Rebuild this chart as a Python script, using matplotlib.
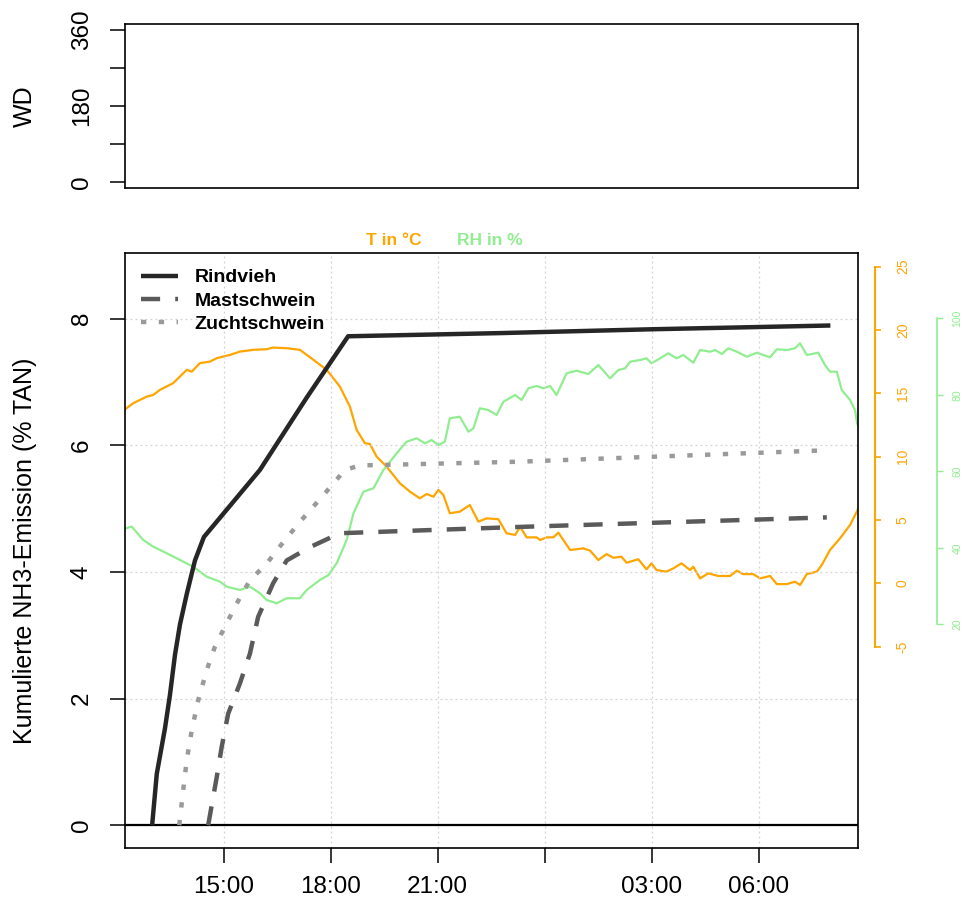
import matplotlib
matplotlib.use("Agg")
import matplotlib.pyplot as plt

plt.rcParams['font.family'] = ['Liberation Sans', 'DejaVu Sans']
plt.rcParams['axes.unicode_minus'] = False

# ---- data (time in decimal hours; >24 = next day) ----
rind_t = [13.00, 13.13, 13.36, 13.50, 13.64, 13.78, 13.97, 14.20, 14.45, 16.02, 17.34, 18.49, 22.75, 26.95, 32.00]
rind_v = [0.00, 0.81, 1.53, 2.06, 2.69, 3.17, 3.65, 4.18, 4.55, 5.61, 6.76, 7.72, 7.77, 7.83, 7.89]

mast_t = [14.57, 14.81, 14.95, 15.13, 15.46, 15.74, 15.97, 16.39, 16.77, 17.42, 18.26, 23.31, 31.90]
mast_v = [0.00, 0.76, 1.24, 1.76, 2.24, 2.71, 3.29, 3.82, 4.18, 4.39, 4.61, 4.71, 4.86]

zucht_t = [13.76, 13.86, 13.97, 14.11, 14.29, 14.53, 14.76, 14.99, 15.37, 15.74, 16.21, 16.49,
           17.14, 17.75, 18.40, 18.82, 23.31, 31.90]
zucht_v = [0.00, 0.50, 1.03, 1.50, 1.97, 2.45, 2.82, 3.08, 3.50, 3.87, 4.13, 4.34,
           4.79, 5.18, 5.61, 5.68, 5.74, 5.92]

temp_t = [12.10, 12.47, 12.85, 13.03, 13.22, 13.59, 13.97, 14.11, 14.34, 14.62, 14.81, 15.18,
          15.46, 15.83, 16.21, 16.39, 16.77, 17.14, 17.52, 17.89, 18.26, 18.54, 18.73, 18.96,
          19.10, 19.29, 19.57, 19.94, 20.22, 20.50, 20.69, 20.88, 21.02, 21.16, 21.34, 21.62,
          21.90, 22.14, 22.37, 22.70, 22.93, 23.17, 23.31, 23.49, 23.77, 23.87, 24.05, 24.24,
          24.38, 24.71, 25.08, 25.27, 25.50, 25.73, 25.92, 26.15, 26.29, 26.62, 26.85, 26.99,
          27.13, 27.41, 27.60, 27.83, 28.07, 28.16, 28.35, 28.58, 28.86, 29.19, 29.38, 29.56,
          29.84, 30.03, 30.31, 30.50, 30.78, 31.01, 31.15, 31.34, 31.62, 31.76, 31.99, 32.27,
          32.55, 32.74, 32.85]
temp_v = [13.43, 14.22, 14.74, 14.87, 15.27, 15.80, 16.85, 16.71, 17.38, 17.50, 17.77, 18.03,
          18.29, 18.43, 18.48, 18.61, 18.56, 18.43, 17.64, 16.85, 15.53, 13.95, 12.11, 11.06,
          11.00, 10.00, 9.21, 7.90, 7.24, 6.71, 7.05, 6.84, 7.37, 6.97, 5.53, 5.66,
          6.18, 4.87, 5.13, 5.06, 3.95, 3.82, 4.47, 3.63, 3.63, 3.42, 3.63, 3.63,
          4.00, 2.63, 2.76, 2.58, 1.84, 2.31, 2.02, 2.10, 1.63, 1.90, 1.11, 1.58,
          1.05, 0.92, 1.18, 1.58, 1.05, 1.31, 0.39, 0.79, 0.58, 0.58, 1.00, 0.73,
          0.73, 0.39, 0.58, -0.06, -0.06, 0.13, -0.13, 0.73, 0.92, 1.45, 2.63, 3.55,
          4.60, 5.66, 6.30]

rh_t = [12.10, 12.43, 12.75, 13.03, 13.41, 13.78, 14.15, 14.53, 14.90, 15.09, 15.46, 15.74,
        16.02, 16.21, 16.49, 16.77, 17.14, 17.33, 17.70, 17.94, 18.17, 18.45, 18.64, 18.92,
        19.20, 19.48, 19.85, 20.13, 20.41, 20.64, 20.83, 21.02, 21.20, 21.34, 21.62, 21.86,
        22.00, 22.18, 22.42, 22.65, 22.84, 23.17, 23.35, 23.54, 23.77, 23.96, 24.15, 24.33,
        24.61, 24.89, 25.22, 25.50, 25.83, 26.06, 26.25, 26.39, 26.67, 26.85, 26.99, 27.23,
        27.46, 27.69, 27.88, 28.16, 28.35, 28.63, 28.77, 28.96, 29.14, 29.38, 29.66, 29.94,
        30.12, 30.31, 30.50, 30.78, 31.01, 31.15, 31.34, 31.66, 31.85, 31.99, 32.18, 32.32,
        32.55, 32.69, 32.75, 32.85]
rh_v = [44.65, 45.52, 42.04, 40.29, 38.56, 36.81, 35.06, 32.44, 31.14, 29.83, 28.97, 29.83,
        28.10, 26.35, 25.49, 26.80, 26.80, 28.97, 31.58, 32.89, 35.95, 42.04, 49.02, 54.67,
        55.56, 60.34, 64.71, 67.74, 68.63, 67.32, 68.18, 66.88, 67.74, 73.86, 74.27, 70.35,
        71.24, 76.47, 76.03, 74.72, 78.20, 79.95, 78.64, 81.70, 82.30, 81.70, 82.30, 79.95,
        85.62, 86.30, 85.44, 87.79, 84.31, 86.48, 86.93, 88.65, 89.10, 89.54, 88.24, 89.54,
        90.85, 89.54, 90.41, 88.39, 91.71, 91.27, 91.71, 90.67, 92.16, 91.27, 89.96, 91.01,
        90.41, 89.80, 91.90, 91.71, 92.16, 93.46, 90.41, 91.01, 87.79, 86.04, 86.04, 81.25,
        78.64, 76.03, 72.55, 70.00]

x_ticks = [15, 18, 21, 24, 27, 30]
x_labels = ["15:00", "18:00", "21:00", "", "03:00", "06:00"]
y_ticks = [0, 2, 4, 6, 8]
wd_ticks = [0, 90, 180, 270, 360]
wd_labels = ["0", "", "180", "", "360"]
t_ticks = [-5, 0, 5, 10, 15, 20, 25]
rh_ticks = [20, 40, 60, 80, 100]
series_names = ["Rindvieh", "Mastschwein", "Zuchtschwein"]

# ---- figure ----
W, H = 964, 907
fig = plt.figure(figsize=(W / 100, H / 100), dpi=100)

def fr(x0, y0, x1, y1):
    return [x0 / W, 1 - y1 / H, (x1 - x0) / W, (y1 - y0) / H]

XLIM = (12.24, 32.76)
ORANGE = "#FFA500"
GREEN = "#90EE90"

# top WD panel
ax0 = fig.add_axes(fr(125, 24, 857.5, 188.3))
ax0.set_xlim(*XLIM)
ax0.set_ylim(-14.4, 374.4)
ax0.set_xticks([])
ax0.set_yticks(wd_ticks)
ax0.set_yticklabels(wd_labels)
ax0.tick_params(axis='y', length=11, width=1.1, pad=20, labelsize=17.5, labelrotation=90)
for lb in ax0.get_yticklabels():
    lb.set_ha('center'); lb.set_va('center')
for s in ax0.spines.values():
    s.set_linewidth(1.2)
ax0.set_ylabel("WD", fontsize=18)
ax0.yaxis.set_label_coords(-0.120, 0.5)

# bottom main panel
ax = fig.add_axes(fr(125, 253.3, 857.5, 848))
ax_t = ax.twinx()
ax_rh = ax.twinx()
for a in (ax_t, ax_rh):
    for k in ('left', 'top', 'bottom'):
        a.spines[k].set_visible(False)

ax.set_xlim(*XLIM)
ax.set_ylim(-0.36, 9.03)

# grid
for xt in x_ticks:
    ax.axvline(xt, color="#D3D3D3", lw=0.9, ls=(0, (1.5, 2.5)), zorder=0)
for yt in y_ticks:
    ax.axhline(yt, color="#D3D3D3", lw=0.9, ls=(0, (1.5, 2.5)), zorder=0)
ax.axhline(0, color="black", lw=1.6, zorder=1)

# T and RH
ax_t.plot(temp_t, temp_v, color=ORANGE, lw=1.6)
ax_t.set_ylim(-20.89, 26.05)
ax_t.spines['right'].set_position(('axes', 1.0239))
ax_t.spines['right'].set_bounds(-5, 25)
ax_t.spines['right'].set_color(ORANGE)
ax_t.spines['right'].set_linewidth(1.5)
ax_t.set_yticks(t_ticks)
ax_t.set_yticklabels([str(v) for v in t_ticks])
ax_t.tick_params(axis='y', colors=ORANGE, length=4, width=1.2, pad=11, labelsize=10, labelrotation=90)
for lb in ax_t.get_yticklabels():
    lb.set_va('center')

ax_rh.plot(rh_t, rh_v, color=GREEN, lw=1.6)
ax_rh.set_ylim(-38.5, 117.0)
ax_rh.spines['right'].set_position(('axes', 1.1085))
ax_rh.spines['right'].set_bounds(20, 100)
ax_rh.spines['right'].set_color(GREEN)
ax_rh.spines['right'].set_linewidth(1.2)
ax_rh.set_yticks(rh_ticks)
ax_rh.set_yticklabels([str(v) for v in rh_ticks])
ax_rh.tick_params(axis='y', colors=GREEN, length=4, width=1.0, pad=7, labelsize=7.5, labelrotation=90)
for lb in ax_rh.get_yticklabels():
    lb.set_va('center')

# emission lines on top
ax.set_zorder(5)
ax.patch.set_visible(False)
l1, = ax.plot(rind_t, rind_v, color="#262626", lw=3.2, solid_capstyle='butt', label=series_names[0])
l2, = ax.plot(mast_t, mast_v, color="#5A5A5A", lw=3.2, ls=(0, (4.3, 3.4)), dash_capstyle='butt', label=series_names[1])
l3, = ax.plot(zucht_t, zucht_v, color="#9A9A9A", lw=3.2, ls=(0, (1.2, 2.8)), dash_capstyle='butt', label=series_names[2])

ax.set_xticks(x_ticks)
ax.set_xticklabels(x_labels)
ax.set_yticks(y_ticks)
ax.set_yticklabels([str(v) for v in y_ticks])
ax.tick_params(axis='x', length=10.5, width=1.1, pad=10, labelsize=17.5)
ax.tick_params(axis='y', length=11, width=1.1, pad=20, labelsize=17.5, labelrotation=90)
for lb in ax.get_yticklabels():
    lb.set_ha('center'); lb.set_va('center')
for s in ax.spines.values():
    s.set_linewidth(1.2)
ax.set_ylabel("Kumulierte NH3-Emission (% TAN)", fontsize=18)
ax.yaxis.set_label_coords(-0.120, 0.5)

ax.legend(handles=[l1, l2, l3], loc='upper left', bbox_to_anchor=(0.0218, 0.974),
          frameon=False, borderpad=0, borderaxespad=0, handlelength=1.9,
          handletextpad=0.85, labelspacing=0.30, prop={'weight': 'bold', 'size': 14})

fig.text(393.7 / W, 1 - 240.7 / H, "T in °C", color=ORANGE, fontsize=12.5,
         fontweight='bold', ha='center', va='center')
fig.text(490 / W, 1 - 240.7 / H, "RH in %", color=GREEN, fontsize=12.5,
         fontweight='bold', ha='center', va='center')

fig.savefig("out.png", dpi=100)
